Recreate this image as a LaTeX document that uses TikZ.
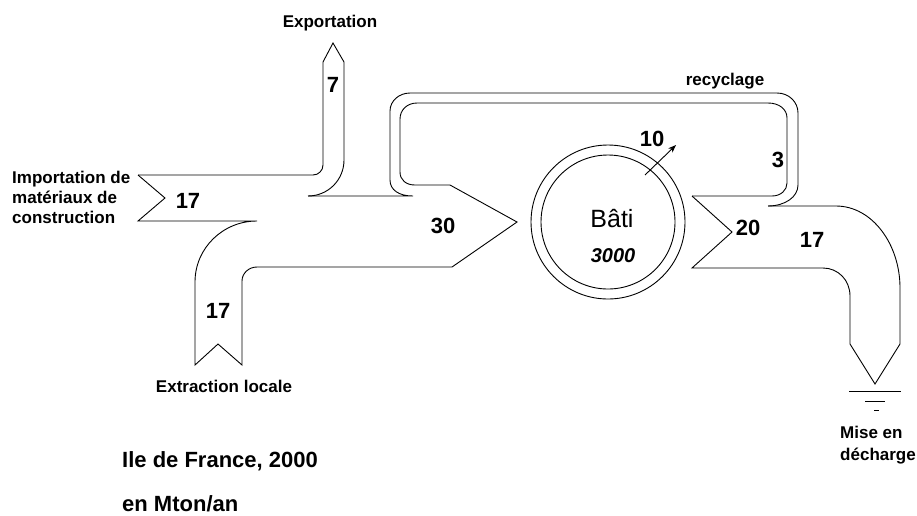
\documentclass[tikz,border=0pt]{standalone}
\usepackage{fontspec}
\setmainfont{Liberation Sans}
\usetikzlibrary{arrows.meta}
\tikzset{
  flow/.style={line width=0.9pt, line join=miter},
  lbl/.style={font=\bfseries\fontsize{17pt}{20pt}\selectfont, inner sep=0pt},
  num/.style={font=\bfseries\fontsize{22pt}{26pt}\selectfont, inner sep=0pt},
  big/.style={font=\bfseries\fontsize{22pt}{26pt}\selectfont, inner sep=0pt},
  ring/.style={circle, draw, line width=0.9pt, inner sep=0pt, outer sep=0pt},
}
\begin{document}
\begin{tikzpicture}[x=1pt,y=-1pt]
\useasboundingbox (0,0) rectangle (917,515);
% import + export
\draw[flow] (138,175) -- (313,175) .. controls (318.5,175) and (323,170.5) .. (323,165)
  -- (323,62) -- (333,43) -- (344,62) -- (344,160)
  .. controls (344,180) and (328,196) .. (308,196);
% outer recycling loop
\draw[flow] (308,196) -- (413,196) .. controls (399,196) and (390,190) .. (390,180)
  -- (390,111) .. controls (390,101) and (399,93) .. (410,93)
  -- (777,93) .. controls (789,93) and (798,102) .. (798,113)
  -- (798,185) .. controls (798,197) and (785,206) .. (768,206);
% inner loop + 30 arrow + extraction + import bottom
\draw[flow] (692,196) -- (772,196) .. controls (781,196) and (787,190) .. (787,183)
  -- (787,118) .. controls (787,109) and (779,103) .. (768,103)
  -- (417,103) .. controls (407,103) and (400,110) .. (400,119)
  -- (400,172) .. controls (400,180) and (406,185) .. (415,185)
  -- (450,185) -- (517,222) -- (452,267) -- (257,267)
  .. controls (249,267) and (242,273) .. (242,281)
  -- (242,365) -- (218,344) -- (195,365) -- (195,282)
  .. controls (195,248) and (223,221) .. (257,221)
  -- (138,221) -- (165,198) -- (138,175);
% 20 arrow -> decharge
\draw[flow] (768,206) -- (836,206) .. controls (872,206) and (900,244) .. (900,288)
  -- (900,344) -- (875,384) -- (850,344) -- (850,296)
  .. controls (850,280) and (838,268) .. (823,268)
  -- (692,268) -- (732,232) -- (692,196);
% ground
\draw[line width=0.9pt] (849,391) -- (901,391);
\draw[line width=0.9pt] (865,401) -- (885,401);
\draw[line width=0.9pt] (874,410) -- (879,410);
% stock
\node[ring, minimum size=154pt] (bout) at (608,222) {};
\node[ring, minimum size=134pt] (bin) at (608,222) {};
\coordinate (tenA) at (645,175);
\coordinate (tenB) at (676,145);
\draw[line width=0.9pt, -{Stealth[length=8pt,width=6pt]}] (tenA) -- (tenB);
% texts
\node[lbl, anchor=base] (exp) at (330,27) {Exportation};
\node[lbl, anchor=west, align=left] (imp) at (12,197) {Importation de\\mat\'eriaux de\\construction};
\node[lbl, anchor=base] (ext) at (224,392) {Extraction locale};
\node[lbl, anchor=base] (rec) at (725,85) {recyclage};
\node[lbl, anchor=base west] (mise) at (840,438) {Mise en};
\node[lbl, anchor=base west] (dech) at (840,460) {d\'echarge};
\node[num] (n7) at (333,85) {7};
\node[num] (n17a) at (188,201) {17};
\node[num] (n17b) at (218,311) {17};
\node[num] (n30) at (443,226) {30};
\node[num] (n10) at (652,139) {10};
\node[num] (n3) at (778,160) {3};
\node[num] (n20) at (748,228) {20};
\node[num] (n17c) at (812,240) {17};
\node[anchor=base, inner sep=0pt, font=\fontsize{25pt}{30pt}\selectfont] (bati) at (612,227) {B\^ati};
\node[anchor=base, inner sep=0pt, font=\bfseries\itshape\fontsize{20pt}{24pt}\selectfont] (stock) at (613,262) {3000};
\node[big, anchor=base west] (idf) at (122,467) {Ile de France, 2000};
\node[big, anchor=base west] (unit) at (122,511) {en Mton/an};
\end{tikzpicture}
\end{document}
